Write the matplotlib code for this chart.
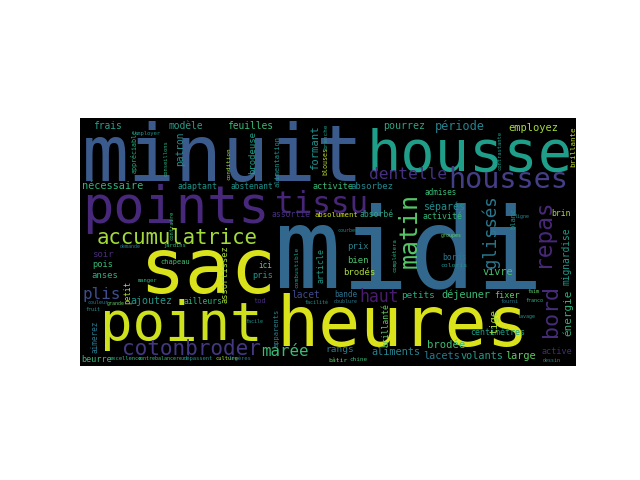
"""
Word cloud of a French sewing / household vocabulary, drawn as text on a
black 2:1 canvas (viridis colours, DejaVu Sans Mono).
"""

import matplotlib
matplotlib.use("Agg")
import matplotlib.pyplot as plt

# canvas of the cloud, in screen pixels (400x200 image shown at 1.24x)
CANVAS_W, CANVAS_H = 496, 248
FONT = "DejaVu Sans Mono"

# ── Horizontal words: text and weight (em height in px) ─────────────────────
h_words = [
    "minuit", "housse", "points", "midi", "sac", "heures", "point",
    "cotonbroder", "accumulatrice", "tissu", "dentelle", "housses", "haut",
    "marée", "rangs", "plis", "soir", "pois", "anses", "ajoutez", "ailleurs",
    "chapeau", "ici", "pris", "prix", "bien", "brodés", "lacet", "bande",
    "petits", "déjeuner", "fixer", "vivre", "bords", "coloris", "centimètres",
    "brodée", "lacets", "volants", "large", "aliments", "beurre", "active",
    "frais", "modèle", "feuilles", "pourrez", "période", "employez",
    "nécessaire", "adaptant", "abstenant", "activite", "absorbez", "admises",
    "séparés", "activité", "assortie", "absolument", "absorbé", "brin", "tod",
]
h_weights = [
    78, 57, 52, 112, 76, 70, 54,
    21, 20.6, 31, 16.3, 28.5, 16.5,
    15.7, 9.5, 16, 9, 8.7, 8.9, 10, 8,
    7, 7.6, 8.7, 9, 9, 9, 9.6, 7.6,
    9.4, 10.2, 8.5, 10.3, 8, 6.5, 8.3,
    10.5, 10.2, 10.2, 10.3, 10.2, 8.5, 8.5,
    9.6, 9.7, 9.7, 10, 11.9, 10.4,
    10.3, 8.3, 7.9, 8.5, 9, 7.6,
    10, 8.3, 8.1, 7.3, 8, 8, 7,
]
# layout: word centre x, baseline y, colour
h_layout = [
    (142.5, 63, "#3b5b8c"), (390, 52, "#1f9e89"), (96, 105, "#48287a"),
    (329, 169, "#33688e"), (128, 175, "#d9e21b"), (322.5, 228, "#dae319"),
    (101, 222, "#cde11d"),
    (111.5, 237, "#453882"), (97.5, 126, "#a2da37"), (242, 95, "#482677"),
    (328.5, 61, "#46307e"), (428.5, 70, "#433e85"), (299, 184, "#481c6e"),
    (205, 238, "#3bbb75"), (260, 234, "#2a788e"), (21.5, 181, "#3e4c8a"),
    (22.5, 139, "#472c7a"), (22.5, 149, "#35b779"), (25, 160, "#29af7f"),
    (71, 186, "#1f9a8a"), (123.5, 186, "#2db27d"),
    (95, 146, "#44bf70"), (185, 150, "#5ec962"), (182.5, 160, "#1f988b"),
    (277.5, 131, "#26828e"), (277.5, 145, "#4ac16d"), (279, 157, "#a8db34"),
    (226, 180, "#3e4a89"), (266, 179, "#2c718e"),
    (338.5, 180, "#27ad81"), (386, 180, "#3aba76"), (427.5, 180, "#5cc863"),
    (417.5, 157, "#4ac16d"), (374, 142, "#2a788e"), (374, 149, "#21918c"),
    (418, 217, "#1f9e89"),
    (366.5, 230, "#3fbc73"), (361.5, 241, "#2a788e"), (401.5, 241, "#1f9e89"),
    (441, 241, "#5ec962"), (316, 237, "#26828e"), (17, 244, "#35b779"),
    (477, 236, "#472a7a"),
    (27.5, 11, "#2a9f88"), (105.5, 11, "#2b9c89"), (170, 11, "#3aba76"),
    (324, 11, "#2ea383"), (380, 12, "#25848e"), (453, 13, "#a5db36"),
    (32.5, 71, "#2fb47c"), (117.5, 71, "#1f968b"), (171.5, 71, "#20928c"),
    (253, 71, "#3aba76"), (292, 71, "#23888e"), (361, 77, "#3aba76"),
    (364, 92, "#218e8d"), (362.5, 101, "#35b779"), (211, 99, "#46307e"),
    (256.5, 99, "#d0e11c"), (296.5, 99, "#2ea383"), (481.5, 98, "#a8db34"),
    (180, 185, "#472c7a"),
]

# ── Vertical words (read bottom to top) ─────────────────────────────────────
v_words = [
    "matin", "repas", "glissés", "bord", "mignardise", "énergie",
    "brillante", "contrastante", "blanc", "tige", "petit", "assortissez",
    "contraire", "appréciable", "patron", "conseillons", "condition",
    "alimentation", "brodeuse", "formant", "branche", "blouses",
    "article", "combustible", "complètera", "apparents", "brillanté",
    "aimerez",
]
v_weights = [
    25, 22.7, 17.3, 21.6, 9.6, 11,
    7.5, 5.5, 7.2, 10.4, 7.6, 8.7,
    5.5, 6.6, 9.7, 5.4, 6,
    7, 8.9, 10.5, 6, 6.6,
    8.3, 6.1, 5.7, 7, 8.1,
    7.8,
]
# layout: baseline x, word centre y, colour
v_layout = [
    (337, 112, "#55c667"), (469, 114, "#482878"), (416, 113, "#2a788e"),
    (477, 193, "#472c7a"), (489, 138, "#1f9a8a"), (491, 194, "#2db27d"),
    (495, 28, "#c2df23"), (421, 32, "#1f9e89"), (435, 100, "#21918c"),
    (417, 203, "#a2da37"), (50, 174, "#b5de2b"), (147, 156, "#a5db36"),
    (93, 107, "#35b779"), (57, 33, "#2ab07f"), (103, 30, "#218f8d"),
    (87, 40, "#2ab07f"), (150, 45, "#a0da39"),
    (199, 43, "#20928c"), (175, 34, "#1f9e89"), (238, 29, "#21918c"),
    (247, 18, "#1f9e89"), (247, 43, "#bddf26"),
    (243, 147, "#1f988b"), (218, 149, "#1f9e89"), (317, 137, "#2ab07f"),
    (198, 209, "#26828e"), (308, 207, "#5ec962"),
    (18, 218, "#2a788e"),
]

# ── Tiny filler words ───────────────────────────────────────────────────────
t_words = [
    "employer", "jardins", "demande", "manger", "grande", "couleur", "fruit",
    "excellence", "contrebalancerez", "dépassent", "culture", "légères",
    "bâtir", "chine", "dessin", "lavage", "faim", "franco", "fourni",
    "courbes", "doublure", "facilité", "facile", "groupes", "ligne",
]
t_weights = [5.5, 5.5, 5, 5.5, 5, 5, 5, 5.5, 5, 5.5, 5.5, 5.5,
             6.5, 6, 5, 5, 5, 5, 5, 5, 5, 5, 5, 5, 5]
t_layout = [
    (68, 17, "#21918c"), (95, 129, "#35b779"), (50, 130, "#2a788e"),
    (67, 164, "#2ab07f"), (36, 187, "#5ec962"), (18.5, 186, "#2a788e"),
    (12.5, 193, "#21918c"),
    (45.5, 242, "#2ab07f"), (81, 242, "#3aba76"), (118.5, 242, "#21918c"),
    (147, 242, "#a0da39"), (160, 242, "#2a788e"),
    (258, 244, "#5ec962"), (278, 243, "#35b779"), (472, 244, "#21918c"),
    (447, 200, "#21918c"), (453, 175, "#5ec962"), (454, 184, "#2ab07f"),
    (429, 185, "#2a788e"),
    (267.5, 114, "#26828e"), (266, 185, "#2a788e"), (236, 186, "#21918c"),
    (174, 205, "#21918c"), (371.5, 119, "#5ec962"), (442, 100, "#26828e"),
]


def main() -> None:
    fig, ax = plt.subplots(figsize=(6.4, 4.8), dpi=100)
    px_to_pt = 72.0 / fig.dpi

    ax.set_xlim(0, CANVAS_W)
    ax.set_ylim(CANVAS_H, 0)
    ax.set_aspect("equal")
    ax.set_facecolor("black")
    ax.set_xticks([])
    ax.set_yticks([])
    for spine in ax.spines.values():
        spine.set_visible(False)

    # horizontal + tiny words share the same anchoring
    for words, weights, layout in ((h_words, h_weights, h_layout),
                                   (t_words, t_weights, t_layout)):
        for word, w, (x, y, col) in zip(words, weights, layout):
            ax.text(x, y, word, fontsize=w * px_to_pt, family=FONT,
                    color=col, ha="center", va="baseline",
                    rotation_mode="anchor")

    for word, w, (x, y, col) in zip(v_words, v_weights, v_layout):
        ax.text(x, y, word, fontsize=w * px_to_pt, family=FONT, color=col,
                rotation=90, ha="center", va="baseline",
                rotation_mode="anchor")

    fig.savefig("out.png", dpi=100)
    plt.close(fig)


if __name__ == "__main__":
    main()
